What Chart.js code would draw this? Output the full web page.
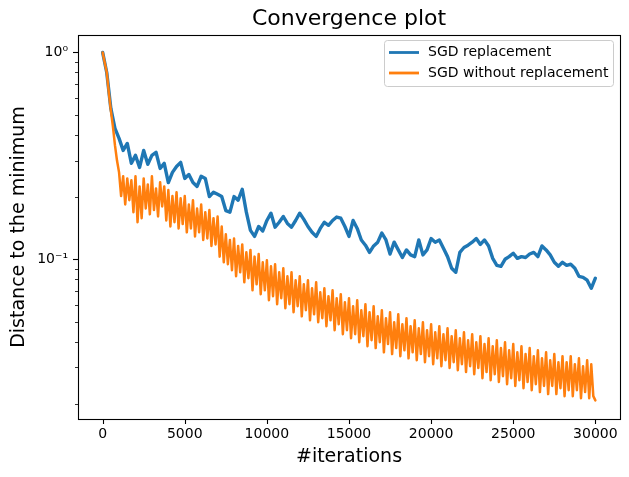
<!DOCTYPE html>
<html>
<head>
<meta charset="utf-8">
<script src="https://cdn.jsdelivr.net/npm/chart.js@4.4.0/dist/chart.umd.min.js"></script>
<style>
  html, body { margin: 0; padding: 0; background: #fff; }
  canvas { display: block; }
</style>
</head>
<body>
<canvas id="convergencia" width="629" height="477"></canvas>
<script>
// === Datos ===
// SGD con reemplazo: un valor cada 250 iteraciones
const iteraciones = [
  0, 250, 500, 750, 1000, 1250, 1500, 1750, 2000, 2250,
  2500, 2750, 3000, 3250, 3500, 3750, 4000, 4250, 4500, 4750,
  5000, 5250, 5500, 5750, 6000, 6250, 6500, 6750, 7000, 7250,
  7500, 7750, 8000, 8250, 8500, 8750, 9000, 9250, 9500, 9750,
  10000, 10250, 10500, 10750, 11000, 11250, 11500, 11750, 12000, 12250,
  12500, 12750, 13000, 13250, 13500, 13750, 14000, 14250, 14500, 14750,
  15000, 15250, 15500, 15750, 16000, 16250, 16500, 16750, 17000, 17250,
  17500, 17750, 18000, 18250, 18500, 18750, 19000, 19250, 19500, 19750,
  20000, 20250, 20500, 20750, 21000, 21250, 21500, 21750, 22000, 22250,
  22500, 22750, 23000, 23250, 23500, 23750, 24000, 24250, 24500, 24750,
  25000, 25250, 25500, 25750, 26000, 26250, 26500, 26750, 27000, 27250,
  27500, 27750, 28000, 28250, 28500, 28750, 29000, 29250, 29500, 29750,
  30000
];

const sgdConReemplazo = [
  1.0, 0.800, 0.536, 0.429, 0.384, 0.336, 0.363, 0.291, 0.318, 0.278,
  0.336, 0.288, 0.318, 0.329, 0.275, 0.291, 0.235, 0.263, 0.281, 0.294,
  0.246, 0.257, 0.235, 0.225, 0.252, 0.246, 0.201, 0.211, 0.206, 0.201,
  0.172, 0.169, 0.201, 0.193, 0.218, 0.169, 0.138, 0.129, 0.144, 0.137,
  0.154, 0.167, 0.143, 0.151, 0.161, 0.149, 0.143, 0.154, 0.167, 0.156,
  0.144, 0.135, 0.129, 0.141, 0.151, 0.146, 0.154, 0.160, 0.158, 0.144,
  0.129, 0.154, 0.141, 0.124, 0.117, 0.108, 0.116, 0.121, 0.134, 0.124,
  0.106, 0.121, 0.111, 0.102, 0.111, 0.105, 0.103, 0.124, 0.105, 0.111,
  0.126, 0.121, 0.124, 0.113, 0.103, 0.0905, 0.0865, 0.108, 0.114, 0.117,
  0.121, 0.126, 0.118, 0.124, 0.116, 0.101, 0.0935, 0.0925, 0.100, 0.103,
  0.107, 0.101, 0.103, 0.102, 0.106, 0.108, 0.103, 0.116, 0.111, 0.105,
  0.0967, 0.0925, 0.0967, 0.0935, 0.0946, 0.0905, 0.0827, 0.0818, 0.0792, 0.0724,
  0.0810
];

// SGD sin reemplazo: oscila mucho, un valor cada 125 iteraciones
const iteracionesFinas = [
  0, 125, 250, 375, 500, 625, 750, 875,
  1000, 1125, 1250, 1375, 1500, 1625, 1750, 1875,
  2000, 2125, 2250, 2375, 2500, 2625, 2750, 2875,
  3000, 3125, 3250, 3375, 3500, 3625, 3750, 3875,
  4000, 4125, 4250, 4375, 4500, 4625, 4750, 4875,
  5000, 5125, 5250, 5375, 5500, 5625, 5750, 5875,
  6000, 6125, 6250, 6375, 6500, 6625, 6750, 6875,
  7000, 7125, 7250, 7375, 7500, 7625, 7750, 7875,
  8000, 8125, 8250, 8375, 8500, 8625, 8750, 8875,
  9000, 9125, 9250, 9375, 9500, 9625, 9750, 9875,
  10000, 10125, 10250, 10375, 10500, 10625, 10750, 10875,
  11000, 11125, 11250, 11375, 11500, 11625, 11750, 11875,
  12000, 12125, 12250, 12375, 12500, 12625, 12750, 12875,
  13000, 13125, 13250, 13375, 13500, 13625, 13750, 13875,
  14000, 14125, 14250, 14375, 14500, 14625, 14750, 14875,
  15000, 15125, 15250, 15375, 15500, 15625, 15750, 15875,
  16000, 16125, 16250, 16375, 16500, 16625, 16750, 16875,
  17000, 17125, 17250, 17375, 17500, 17625, 17750, 17875,
  18000, 18125, 18250, 18375, 18500, 18625, 18750, 18875,
  19000, 19125, 19250, 19375, 19500, 19625, 19750, 19875,
  20000, 20125, 20250, 20375, 20500, 20625, 20750, 20875,
  21000, 21125, 21250, 21375, 21500, 21625, 21750, 21875,
  22000, 22125, 22250, 22375, 22500, 22625, 22750, 22875,
  23000, 23125, 23250, 23375, 23500, 23625, 23750, 23875,
  24000, 24125, 24250, 24375, 24500, 24625, 24750, 24875,
  25000, 25125, 25250, 25375, 25500, 25625, 25750, 25875,
  26000, 26125, 26250, 26375, 26500, 26625, 26750, 26875,
  27000, 27125, 27250, 27375, 27500, 27625, 27750, 27875,
  28000, 28125, 28250, 28375, 28500, 28625, 28750, 28875,
  29000, 29125, 29250, 29375, 29500, 29625, 29750, 29875,
  30000
];

const sgdSinReemplazo = [
  1.0, 0.895, 0.801, 0.641, 0.525, 0.439, 0.356, 0.300,
  0.263, 0.202, 0.252, 0.184, 0.246, 0.193, 0.241, 0.169,
  0.252, 0.151, 0.225, 0.158, 0.246, 0.176, 0.230, 0.165,
  0.252, 0.173, 0.220, 0.161, 0.236, 0.180, 0.225, 0.154,
  0.216, 0.144, 0.202, 0.151, 0.211, 0.141, 0.197, 0.148,
  0.202, 0.135, 0.184, 0.141, 0.193, 0.129, 0.176, 0.135,
  0.184, 0.124, 0.169, 0.126, 0.173, 0.116, 0.158, 0.118,
  0.161, 0.103, 0.144, 0.0967, 0.132, 0.0946, 0.124, 0.0885,
  0.126, 0.0828, 0.116, 0.0865, 0.118, 0.0774, 0.108, 0.0810,
  0.111, 0.0708, 0.103, 0.0757, 0.106, 0.0678, 0.0967, 0.0708,
  0.0989, 0.0634, 0.0925, 0.0663, 0.0946, 0.0606, 0.0865, 0.0648,
  0.0905, 0.0580, 0.0828, 0.0606, 0.0865, 0.0555, 0.0792, 0.0593,
  0.0828, 0.0530, 0.0757, 0.0567, 0.0792, 0.0507, 0.0724, 0.0542,
  0.0774, 0.0496, 0.0693, 0.0519, 0.0724, 0.0475, 0.0663, 0.0507,
  0.0708, 0.0454, 0.0648, 0.0485, 0.0678, 0.0434, 0.0620, 0.0454,
  0.0648, 0.0415, 0.0593, 0.0434, 0.0634, 0.0397, 0.0567, 0.0425,
  0.0606, 0.0380, 0.0555, 0.0406, 0.0593, 0.0372, 0.0530, 0.0397,
  0.0567, 0.0355, 0.0519, 0.0389, 0.0555, 0.0348, 0.0496, 0.0372,
  0.0542, 0.0340, 0.0485, 0.0363, 0.0519, 0.0332, 0.0475, 0.0355,
  0.0507, 0.0325, 0.0464, 0.0348, 0.0496, 0.0318, 0.0454, 0.0340,
  0.0485, 0.0311, 0.0444, 0.0332, 0.0475, 0.0304, 0.0434, 0.0325,
  0.0464, 0.0298, 0.0425, 0.0318, 0.0454, 0.0291, 0.0415, 0.0311,
  0.0444, 0.0285, 0.0406, 0.0304, 0.0434, 0.0278, 0.0397, 0.0298,
  0.0425, 0.0266, 0.0389, 0.0285, 0.0415, 0.0260, 0.0380, 0.0278,
  0.0406, 0.0255, 0.0372, 0.0272, 0.0397, 0.0249, 0.0363, 0.0266,
  0.0389, 0.0244, 0.0355, 0.0260, 0.0380, 0.0238, 0.0348, 0.0255,
  0.0372, 0.0233, 0.0340, 0.0249, 0.0363, 0.0228, 0.0332, 0.0244,
  0.0355, 0.0223, 0.0325, 0.0244, 0.0348, 0.0223, 0.0318, 0.0238,
  0.0340, 0.0218, 0.0318, 0.0233, 0.0340, 0.0218, 0.0311, 0.0233,
  0.0332, 0.0213, 0.0304, 0.0228, 0.0325, 0.0213, 0.0311, 0.0218,
  0.0208
];

const xTicks = [0, 5000, 10000, 15000, 20000, 25000, 30000];
const yTicks = [0.02, 0.03, 0.04, 0.05, 0.06, 0.07, 0.08, 0.09,
                0.1, 0.2, 0.3, 0.4, 0.5, 0.6, 0.7, 0.8, 0.9, 1];
const yEtiquetas = { 1: '10⁰', 0.1: '10⁻¹' };

const AZUL = '#1f77b4';
const NARANJA = '#ff7f0e';

Chart.defaults.font.family = "'DejaVu Sans', sans-serif";
Chart.defaults.color = '#000';

// === Marco, marcas de los ejes y leyenda (estilo matplotlib) ===
const estiloMatplotlib = {
  id: 'estiloMatplotlib',
  afterDatasetsDraw(chart) {
    const { ctx, chartArea: a, scales: { x, y } } = chart;
    ctx.save();
    ctx.strokeStyle = '#000';

    ctx.lineWidth = 1.1;
    xTicks.forEach(v => {
      const px = Math.round(x.getPixelForValue(v)) + 0.5;
      ctx.beginPath();
      ctx.moveTo(px, a.bottom);
      ctx.lineTo(px, a.bottom + 5);
      ctx.stroke();
    });

    yTicks.forEach(v => {
      const mayor = yEtiquetas[v] !== undefined;
      const py = Math.round(y.getPixelForValue(v)) + 0.5;
      ctx.lineWidth = mayor ? 1.1 : 0.8;
      ctx.beginPath();
      ctx.moveTo(a.left, py);
      ctx.lineTo(a.left - (mayor ? 5 : 3), py);
      ctx.stroke();
    });

    ctx.lineWidth = 1.1;
    ctx.strokeRect(Math.round(a.left) + 0.5, Math.round(a.top) + 0.5,
                   Math.round(a.right - a.left), Math.round(a.bottom - a.top));

    // leyenda arriba a la derecha
    ctx.beginPath();
    ctx.roundRect(384.5, 40.5, 229, 46, 3);
    ctx.fillStyle = 'rgba(255,255,255,0.8)';
    ctx.fill();
    ctx.strokeStyle = '#cccccc';
    ctx.lineWidth = 1;
    ctx.stroke();

    ctx.font = "14px 'DejaVu Sans', sans-serif";
    ctx.textBaseline = 'middle';
    ctx.textAlign = 'left';
    chart.data.datasets.forEach((ds, i) => {
      const yy = 52.5 + i * 20.5;
      ctx.strokeStyle = ds.borderColor;
      ctx.lineWidth = 2.8;
      ctx.beginPath();
      ctx.moveTo(389, yy);
      ctx.lineTo(419, yy);
      ctx.stroke();
      ctx.fillStyle = '#000';
      ctx.fillText(ds.label, 428, yy);
    });
    ctx.restore();
  }
};

new Chart(document.getElementById('convergencia'), {
  type: 'line',
  data: {
    datasets: [{
      label: 'SGD replacement',
      data: iteraciones.map((it, i) => ({ x: it, y: sgdConReemplazo[i] })),
      borderColor: AZUL,
      borderWidth: 3.4,
      order: 2
    }, {
      label: 'SGD without replacement',
      data: iteracionesFinas.map((it, i) => ({ x: it, y: sgdSinReemplazo[i] })),
      borderColor: NARANJA,
      borderWidth: 2.5,
      order: 1
    }]
  },
  options: {
    responsive: false,
    animation: false,
    events: [],
    layout: { padding: { top: 0, left: 0, right: 9, bottom: 0 } },
    elements: {
      point: { radius: 0 },
      line: { tension: 0, borderJoinStyle: 'round', borderCapStyle: 'round' }
    },
    plugins: {
      legend: { display: false },
      tooltip: { enabled: false },
      title: {
        display: true,
        fullSize: false,
        text: 'Convergence plot',
        font: { size: 22, weight: 'normal' },
        padding: { top: 6.3, bottom: 2.3 }
      }
    },
    scales: {
      x: {
        type: 'linear',
        min: -1500,
        max: 31500,
        grid: { display: false, drawTicks: false },
        border: { display: false },
        ticks: {
          autoSkip: false,
          maxRotation: 0,
          padding: 7,
          font: { size: 14 },
          callback: v => String(v)
        },
        title: { display: true, text: '#iterations', font: { size: 19 }, padding: { top: 0, bottom: 8.6 } },
        afterBuildTicks: s => { s.ticks = xTicks.map(v => ({ value: v })); },
        afterFit: s => { s.height = 58; s.paddingLeft = 0; s.paddingRight = 0; }
      },
      y: {
        type: 'logarithmic',
        min: 0.0169,
        max: 1.214,
        grid: { display: false, drawTicks: false },
        border: { display: false },
        ticks: {
          autoSkip: false,
          padding: 10,
          font: { size: 14 },
          callback: v => yEtiquetas[v] || ''
        },
        title: { display: true, text: 'Distance to the minimum', font: { size: 19 }, padding: { top: 7.6, bottom: 0 } },
        afterBuildTicks: s => { s.ticks = yTicks.map(v => ({ value: v })); },
        afterFit: s => { s.width = 78; s.paddingTop = 0; s.paddingBottom = 0; }
      }
    }
  },
  plugins: [estiloMatplotlib]
});
</script>
</body>
</html>
